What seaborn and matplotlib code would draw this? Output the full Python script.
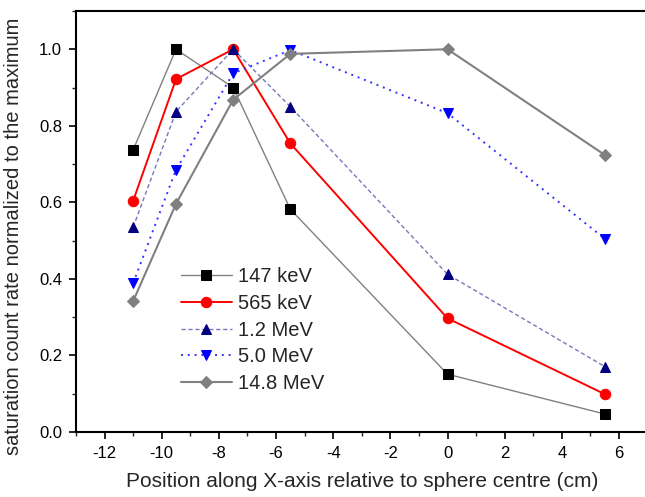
import matplotlib
matplotlib.use("Agg")
import matplotlib.pyplot as plt
import seaborn as sns
from matplotlib.ticker import MultipleLocator, FormatStrFormatter

# ---- data ---- #
positions = [-11, -9.5, -7.5, -5.5, 0, 5.5]
kev_147 = [0.737, 1.0, 0.900, 0.582, 0.151, 0.047]
kev_565 = [0.604, 0.922, 1.0, 0.754, 0.297, 0.099]
mev_1_2 = [0.535, 0.837, 1.0, 0.850, 0.412, 0.171]
mev_5_0 = [0.389, 0.685, 0.937, 0.998, 0.833, 0.505]
mev_14_8 = [0.342, 0.596, 0.868, 0.988, 1.0, 0.724]

sns.set_style("ticks")
plt.rcParams['font.family'] = ['Liberation Sans', 'DejaVu Sans']
plt.rcParams['axes.unicode_minus'] = False

fig = plt.figure(figsize=(6.45, 4.97), dpi=100)
ax = fig.add_axes([0.1178, 0.1308, 0.8862, 0.8471])

series = [
    (kev_147, '147 keV', dict(color='#808080', lw=1.0, ls='-', marker='s', ms=6.5,
                              markerfacecolor='black', markeredgecolor='black')),
    (kev_565, '565 keV', dict(color='#ff0000', lw=1.4, ls='-', marker='o', ms=7.5,
                              markerfacecolor='#ff0000', markeredgecolor='#ff0000')),
    (mev_1_2, '1.2 MeV', dict(color='#7777bb', lw=1.0, ls=(0, (3, 2)), marker='^', ms=7.5,
                              markerfacecolor='#000080', markeredgecolor='#000080')),
    (mev_5_0, '5.0 MeV', dict(color='#3333ff', lw=1.4, ls=(0, (1, 2.5)), marker='v', ms=7.5,
                              markerfacecolor='#0000ff', markeredgecolor='#0000ff')),
    (mev_14_8, '14.8 MeV', dict(color='#808080', lw=1.5, ls='-', marker='D', ms=6.5,
                                markerfacecolor='#808080', markeredgecolor='#808080')),
]

for values, label, style in series:
    sns.lineplot(x=positions, y=values, ax=ax, label=label, **style)

ax.set_xlim(-13, 7)
ax.set_ylim(0, 1.1)
ax.xaxis.set_major_locator(MultipleLocator(2))
ax.xaxis.set_minor_locator(MultipleLocator(1))
ax.yaxis.set_major_locator(MultipleLocator(0.2))
ax.yaxis.set_minor_locator(MultipleLocator(0.1))
ax.yaxis.set_major_formatter(FormatStrFormatter('%.1f'))

ax.tick_params(which='major', direction='out', length=5, width=1.2, labelsize=12,
               colors='black', pad=5)
ax.tick_params(which='minor', direction='out', length=3, width=1.0)
for side in ['left', 'bottom', 'top']:
    ax.spines[side].set_linewidth(1.5)
    ax.spines[side].set_color('black')
ax.spines['right'].set_visible(False)

ax.set_xlabel('Position along X-axis relative to sphere centre (cm)', fontsize=15, labelpad=8)
ax.set_ylabel('saturation count rate normalized to the maximum', fontsize=14.5)
ax.yaxis.set_label_coords(-0.093, 0.465)

ax.legend(loc='upper left', bbox_to_anchor=(0.17, 0.41), frameon=False, fontsize=14.5,
          handlelength=2.5, handletextpad=0.3, labelspacing=0.38, borderaxespad=0)

fig.savefig('out.png', dpi=100)
